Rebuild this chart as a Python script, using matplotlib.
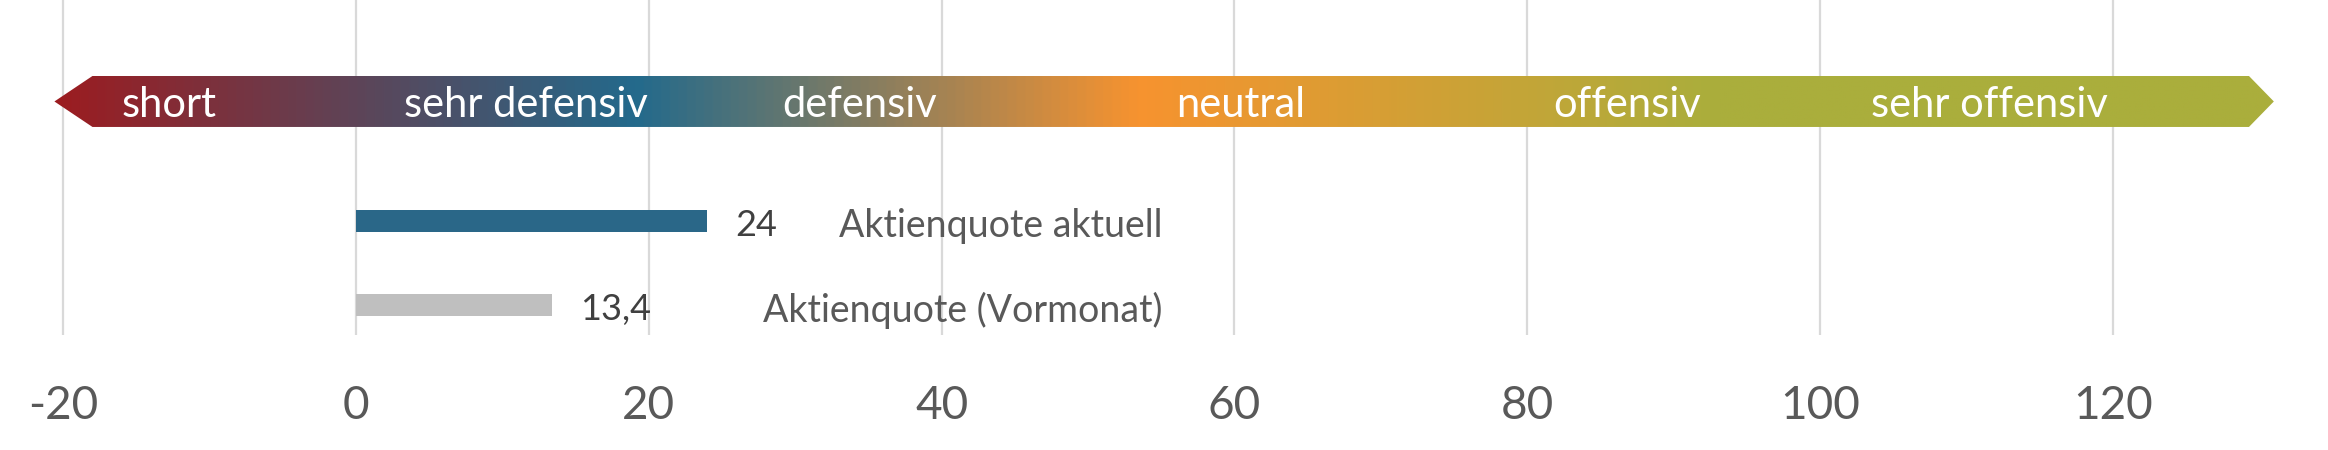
import numpy as np
import matplotlib
matplotlib.use("Agg")
import matplotlib.pyplot as plt
from matplotlib.colors import LinearSegmentedColormap
from matplotlib.patches import Polygon

# ---- data ----
categories = ["Aktienquote (Vormonat)", "Aktienquote aktuell"]
values = [13.4, 24]
value_labels = ["13,4", "24"]
bar_colors = ["#bfbfbf", "#2a6788"]
xticks = [-20, 0, 20, 40, 60, 80, 100, 120]
zones = ["short", "sehr defensiv", "defensiv", "neutral", "offensiv", "sehr offensiv"]
zone_centers = [-12.8, 11.6, 34.4, 60.4, 86.8, 111.6]
grad_positions = [-20.6, 19, 53.5, 93, 131]
grad_colors = ["#9c1c20", "#236a8c", "#f7932f", "#aaae3c", "#aaae3c"]

plt.rcParams['font.family'] = ['Lato', 'DejaVu Sans']

W, H, DPI = 2328, 450, 100
fig = plt.figure(figsize=(W / DPI, H / DPI), dpi=DPI)
ax_bottom_px = 335
ax = fig.add_axes([0, (H - ax_bottom_px) / H, 1, ax_bottom_px / H])

px_per_unit = 292.8 / 20
zero_px = 356
ax.set_xlim(-zero_px / px_per_unit, (W - zero_px) / px_per_unit)
unit_px = 84.0
ymin = -30 / unit_px
ax.set_ylim(ymin, ymin + ax_bottom_px / unit_px)

# grid
ax.set_xticks(xticks)
ax.set_xticklabels([str(t) for t in xticks])
ax.xaxis.grid(True, color="#d9d9d9", linewidth=1.6, zorder=0)
ax.set_axisbelow(True)
ax.tick_params(axis="x", length=0, pad=36, labelsize=33, labelcolor="#595959")
ax.set_yticks([])
for s in ax.spines.values():
    s.set_visible(False)

# arrow with gradient
yc = 2.423
hh = 0.607 / 2
x_tip_l, x_body_l, x_body_r, x_tip_r = -20.6, -18.0, 129.3, 131.0
poly = Polygon([(x_tip_l, yc), (x_body_l, yc + hh), (x_body_r, yc + hh),
                (x_tip_r, yc), (x_body_r, yc - hh), (x_body_l, yc - hh)],
               closed=True, facecolor="none", edgecolor="none")
ax.add_patch(poly)
span = grad_positions[-1] - grad_positions[0]
stops = [((p - grad_positions[0]) / span, c) for p, c in zip(grad_positions, grad_colors)]
cmap = LinearSegmentedColormap.from_list("zone", stops)
grad = np.linspace(0, 1, 1024).reshape(1, -1)
im = ax.imshow(grad, cmap=cmap, aspect="auto", extent=[x_tip_l, x_tip_r, yc - hh, yc + hh],
               interpolation="bilinear", zorder=2)
im.set_clip_path(poly)

for name, cx in zip(zones, zone_centers):
    ax.text(cx, yc - 0.19, name, color="white", fontsize=30, ha="center", va="baseline", zorder=3)

# bars
ypos = np.arange(len(categories))
ax.barh(ypos, values, height=0.262, color=bar_colors, zorder=3)
for y, v, lab in zip(ypos, values, value_labels):
    ax.text(v + 28 / px_per_unit, y - 0.05, lab, color="#404040", fontsize=26, ha="left", va="center", zorder=4)
for y, cat in zip(ypos, categories):
    ax.text(55.1, y - 0.06, cat, color="#595959", fontsize=27, ha="right", va="center", zorder=4)

fig.savefig("out.png", dpi=DPI)
